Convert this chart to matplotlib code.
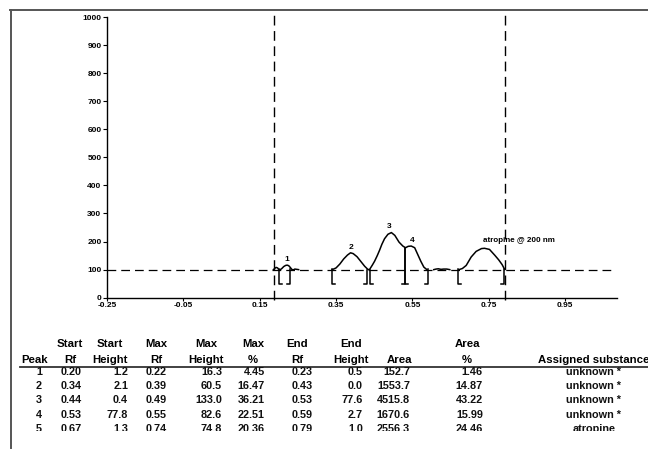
import numpy as np
import matplotlib.pyplot as plt
from matplotlib.lines import Line2D
from matplotlib.transforms import Bbox, TransformedBbox

plt.rcParams['font.family'] = ['Liberation Sans', 'DejaVu Sans']

# peak table
peaks = [1, 2, 3, 4, 5]
start_rf = [0.20, 0.34, 0.44, 0.53, 0.67]
start_h = [1.2, 2.1, 0.4, 77.8, 1.3]
max_rf = [0.22, 0.39, 0.49, 0.55, 0.74]
max_h = [16.3, 60.5, 133.0, 82.6, 74.8]
max_pct = [4.45, 16.47, 36.21, 22.51, 20.36]
end_rf = [0.23, 0.43, 0.53, 0.59, 0.79]
end_h = [0.5, 0.0, 77.6, 2.7, 1.0]
area = [152.7, 1553.7, 4515.8, 1670.6, 2556.3]
area_pct = [1.46, 14.87, 43.22, 15.99, 24.46]
substance = ['unknown *', 'unknown *', 'unknown *', 'unknown *', 'atropine']
peak_labels = ['1', '2', '3', '4', 'atropine @ 200 nm']

# densitogram trace (signal = 100 + height), nan = gap
nan = np.nan
trace_rf = [0.186, 0.190, 0.193, 0.197, 0.200, 0.204, 0.208, 0.213, 0.218, 0.222,
            0.226, 0.230, 0.234, 0.238, 0.242, 0.247, 0.252, nan,
            0.340, 0.350, 0.360, 0.370, 0.380, 0.388, 0.395, 0.405, 0.415, 0.425,
            0.434, 0.438, 0.445, 0.451, 0.458, 0.464, 0.470, 0.477, 0.486, 0.495,
            0.504, 0.515, 0.525, 0.532, 0.539, 0.547, 0.556, 0.563, 0.572, 0.580,
            0.588, nan,
            0.606, 0.612, 0.618, 0.625, 0.632, 0.640, 0.648, nan,
            0.672, 0.681, 0.691, 0.704, 0.717, 0.731, 0.739, 0.752, 0.766, 0.776,
            0.785, 0.792]
trace_sig = [100, 105, 108, 106, 100, 100, 104, 111, 115, 116,
             114, 108, 101, 99, 102, 101, 100, nan,
             100, 106, 120, 138, 152, 160, 157, 146, 129, 112,
             100, 101, 116, 130, 150, 169, 190, 210, 226, 232,
             222, 198, 184, 178, 183, 184, 178, 157, 130, 109,
             100, nan,
             100, 102, 103, 101, 102, 102, 100, nan,
             100, 104, 115, 145, 165, 175, 176, 172, 151, 135,
             118, 100]

front_rf = [0.188, 0.793]
baseline = 100
xticks = [-0.25, -0.05, 0.15, 0.35, 0.55, 0.75, 0.95]
yticks = list(range(0, 1001, 100))

W, H = 648, 455


def fx(px):
    return px / W


def fy(py):
    return 1 - py / H


fig = plt.figure(figsize=(W / 100, H / 100), dpi=100)
ax = fig.add_axes([fx(107), fy(297.7), fx(617) - fx(107), fy(17) - fy(297.7)])

ax.plot([-0.25, 1.07], [baseline, baseline], color='k', lw=0.9, dashes=(7, 4))
for f in front_rf:
    ax.plot([f, f], [-8, 1010], color='k', lw=1.0, dashes=(7, 4), clip_on=False)
ax.plot(trace_rf, trace_sig, color='k', lw=1.1, solid_joinstyle='round')

# start / end markers
low, foot = 50, 0.008
for s, sh, e, eh in zip(start_rf, start_h, end_rf, end_h):
    ax.plot([s, s, s + foot], [baseline + sh, low, low], color='k', lw=1.1)
    ax.plot([e - foot, e, e], [low, low, baseline + eh], color='k', lw=1.1)

for lab, mx, mh in zip(peak_labels, max_rf, max_h):
    if len(lab) > 1:
        ax.annotate(lab, (mx - 0.005, baseline + mh), xytext=(0, 3),
                    textcoords='offset points', ha='left', va='bottom',
                    fontsize=5.8, fontweight='bold')
    else:
        ax.annotate(lab, (mx, baseline + mh), xytext=(0, 1.5),
                    textcoords='offset points', ha='center', va='bottom',
                    fontsize=6, fontweight='bold')

ax.set_xlim(-0.25, 1.086)
ax.set_ylim(0, 1000)
ax.set_xticks(xticks)
ax.set_xticklabels(['%.2f' % t for t in xticks])
ax.set_yticks(yticks)
for sp in ['top', 'right']:
    ax.spines[sp].set_visible(False)
ax.spines['left'].set_linewidth(1.0)
ax.spines['bottom'].set_linewidth(1.0)
ax.tick_params(axis='y', direction='out', length=3, width=0.8, pad=1,
               labelsize=6)
ax.tick_params(axis='x', direction='out', length=2, width=0.8, pad=1,
               labelsize=6)
for t in ax.get_xticklabels() + ax.get_yticklabels():
    t.set_fontweight('bold')

# page frame
fig.add_artist(Line2D([fx(10), 1], [fy(10), fy(10)], transform=fig.transFigure,
                      color='#555555', lw=1.4))
fig.add_artist(Line2D([fx(10.5), fx(10.5)], [fy(10), fy(448)],
                      transform=fig.transFigure, color='#555555', lw=1.4))

# table
head_top = ['', 'Start', 'Start', 'Max', 'Max', 'Max', 'End', 'End', '', 'Area', '']
head_bot = ['Peak', 'Rf', 'Height', 'Rf', 'Height', '%', 'Rf', 'Height', 'Area',
            '%', 'Assigned substance']
head_x = [35, 70, 110, 156, 206, 253, 297, 351, 399, 467, 538]
data_x = [42, 82, 128, 167, 222, 265, 313, 363, 410, 483, 594]

for i, (a, b) in enumerate(zip(head_top, head_bot)):
    ha = 'left' if i == len(head_bot) - 1 else 'center'
    fig.text(fx(head_x[i]), fy(346.7), a, ha='center', va='baseline',
             fontsize=8.2, fontweight='bold')
    fig.text(fx(head_x[i]), fy(363.3), b, ha=ha, va='baseline',
             fontsize=8.2, fontweight='bold')

fig.add_artist(Line2D([fx(20), 1], [fy(367), fy(367)], transform=fig.transFigure,
                      color='#333333', lw=1.3))

clip = TransformedBbox(Bbox([[0, fy(430.5)], [1, 1]]), fig.transFigure)
for r in range(len(peaks)):
    vals = ['%d' % peaks[r], '%.2f' % start_rf[r], '%.1f' % start_h[r],
            '%.2f' % max_rf[r], '%.1f' % max_h[r], '%.2f' % max_pct[r],
            '%.2f' % end_rf[r], '%.1f' % end_h[r], '%.1f' % area[r],
            '%.2f' % area_pct[r], substance[r]]
    yb = 375 + r * 14.2
    for i, v in enumerate(vals):
        ha = 'center' if i == len(vals) - 1 else 'right'
        t = fig.text(fx(data_x[i]), fy(yb), v, ha=ha, va='baseline',
                     fontsize=7.8, fontweight='bold', color='#111111')
        t.set_clip_box(clip)
        t.set_clip_on(True)

fig.savefig('out.png', dpi=100)
